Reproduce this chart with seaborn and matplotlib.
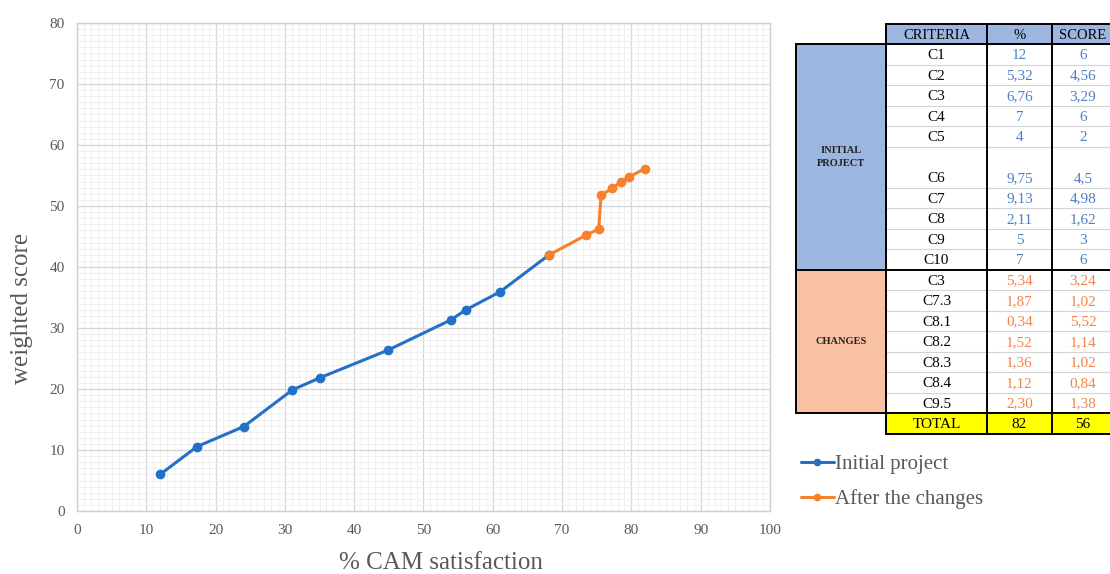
import numpy as np
import pandas as pd
import matplotlib
matplotlib.use("Agg")
import matplotlib.pyplot as plt
import seaborn as sns
from matplotlib.patches import Rectangle
from matplotlib.lines import Line2D
from matplotlib.ticker import MultipleLocator

# ---- data -----------------------------------------------------------------
initial_criteria = ["C1", "C2", "C3", "C4", "C5", "C6", "C7", "C8", "C9", "C10"]
initial_pct_txt = ["12", "5,32", "6,76", "7", "4", "9,75", "9,13", "2,11", "5", "7"]
initial_score_txt = ["6", "4,56", "3,29", "6", "2", "4,5", "4,98", "1,62", "3", "6"]

change_criteria = ["C3", "C7.3", "C8.1", "C8.2", "C8.3", "C8.4", "C9.5"]
change_pct_txt = ["5,34", "1,87", "0,34", "1,52", "1,36", "1,12", "2,30"]
change_score_txt = ["3,24", "1,02", "5,52", "1,14", "1,02", "0,84", "1,38"]

total_label = "TOTAL"
total_pct_txt = "82"
total_score_txt = "56"

series_names = ["Initial project", "After the changes"]
group_names = ["INITIAL\nPROJECT", "CHANGES"]
header = ["CRITERIA", "%", "SCORE"]

x_ticks = list(range(0, 101, 10))
y_ticks = list(range(0, 81, 10))


def num(s):
    return float(s.replace(",", "."))


initial_pct = [num(s) for s in initial_pct_txt]
initial_score = [num(s) for s in initial_score_txt]
change_pct = [num(s) for s in change_pct_txt]
change_score = [num(s) for s in change_score_txt]

# cumulative curve: satisfaction vs weighted score
cum_pct = np.cumsum(initial_pct + change_pct)
cum_score = np.cumsum(initial_score + change_score)
n0 = len(initial_pct)

df = pd.concat([
    pd.DataFrame({"pct": cum_pct[:n0], "score": cum_score[:n0],
                  "series": series_names[0]}),
    pd.DataFrame({"pct": cum_pct[n0 - 1:], "score": cum_score[n0 - 1:],
                  "series": series_names[1]}),
], ignore_index=True)

# ---- style ----------------------------------------------------------------
BLUE = "#2470C6"
ORANGE = "#F7802B"
TXT_BLUE = "#4F7FC4"
TXT_ORANGE = "#F2844A"
GREY_TXT = "#595959"
SERIF = ["Liberation Serif", "DejaVu Serif"]

sns.set_style("white")
plt.rcParams["font.family"] = SERIF

W, H = 1110, 574
fig = plt.figure(figsize=(W / 100, H / 100), dpi=100)
ax = fig.add_axes([77 / W, 1 - 511 / H, (770 - 77) / W, (511 - 23) / H])

sns.lineplot(data=df, x="pct", y="score", hue="series", sort=False,
             palette=[BLUE, ORANGE], marker="o", markersize=7,
             markeredgewidth=0, linewidth=2.2, ax=ax, legend=False, zorder=5)

ax.set_xlim(0, 100)
ax.set_ylim(0, 80)
ax.set_xticks(x_ticks)
ax.set_yticks(y_ticks)
ax.xaxis.set_minor_locator(MultipleLocator(1))
ax.yaxis.set_minor_locator(MultipleLocator(1))
ax.grid(which="major", color="#D6D6D6", linewidth=0.9, zorder=1)
ax.grid(which="minor", color="#EEEEEE", linewidth=0.6, zorder=0)
ax.set_axisbelow(True)
for sp in ax.spines.values():
    sp.set_color("#CFCFCF")
    sp.set_linewidth(1.0)
ax.tick_params(which="both", length=0, labelsize=11, colors=GREY_TXT, pad=9)
ax.set_xlabel("% CAM satisfaction", fontsize=18, color=GREY_TXT)
ax.set_ylabel("weighted score", fontsize=18, color=GREY_TXT)
ax.xaxis.set_label_coords(0.525, -0.107)
ax.yaxis.set_label_coords(-0.079, 0.416)
ax.xaxis.label.set_va("center")
ax.yaxis.label.set_va("center")

# ---- legend ---------------------------------------------------------------
handles = [Line2D([], [], color=c, marker="o", markersize=5.5, lw=2.2, markeredgewidth=0)
           for c in (BLUE, ORANGE)]
fig.legend(handles, series_names, loc="upper left",
           bbox_to_anchor=(782 / W, 1 - 436 / H), frameon=False,
           fontsize=15, labelcolor=GREY_TXT, handlelength=1.6,
           handletextpad=0.05, labelspacing=0.72)

# ---- criteria table (pixel-space overlay) -----------------------------------
tab = fig.add_axes([0, 0, 1, 1], zorder=3)
tab.set_xlim(0, W)
tab.set_ylim(H, 0)
tab.axis("off")

xg0, xc0, xp0, xs0, xend = 796, 886, 987, 1052, 1125
score_cx = 1083  # text centre of the last column (column runs past the edge)
top = 24.3
hdr_h = 20.0
unit = 20.5
TFS = 11

col_centres = [(xc0 + xp0) / 2, (xp0 + xs0) / 2, score_cx]


def cell_text(x, y, s, color="black", size=TFS):
    tab.text(x, y, s, ha="center", va="center", fontsize=size, color=color)


# header
tab.add_patch(Rectangle((xc0, top), xend - xc0, hdr_h, facecolor="#9CB6DF", edgecolor="none"))
for cx, s in zip(col_centres, header):
    cell_text(cx, top + hdr_h / 2 + 1, s, size=10.5)

# body rows
rows = []
spans = [1, 1, 1, 1, 1, 2, 1, 1, 1, 1]
for c, p, s, k in zip(initial_criteria, initial_pct_txt, initial_score_txt, spans):
    rows.append((c, p, s, k, TXT_BLUE))
for c, p, s in zip(change_criteria, change_pct_txt, change_score_txt):
    rows.append((c, p, s, 1, TXT_ORANGE))

y = top + hdr_h
group_bounds = [y]
row_edges = []
for i, (c, p, s, k, col) in enumerate(rows):
    h = k * unit
    yc = y + h - unit / 2 + 1
    cell_text(col_centres[0], yc, c)
    cell_text(col_centres[1], yc, p, color=col)
    cell_text(col_centres[2], yc, s, color=col)
    y += h
    row_edges.append(y)
    if i == n0 - 1:
        group_bounds.append(y)
group_bounds.append(y)
body_bottom = y

# group cells
for (a, b), name, fc in zip([(group_bounds[0], group_bounds[1]),
                             (group_bounds[1], group_bounds[2])],
                            group_names, ["#9CB6DF", "#F8C1A4"]):
    tab.add_patch(Rectangle((xg0, a), xc0 - xg0, b - a, facecolor=fc, edgecolor="none"))
    tab.text((xg0 + xc0) / 2, (a + b) / 2, name, ha="center", va="center",
             fontsize=7.5, fontweight="bold", color="#222222", linespacing=1.6)

# thin row separators
for ye in row_edges[:-1]:
    if ye in group_bounds:
        continue
    tab.plot([xc0, xend], [ye, ye], color="#D4D4D4", lw=0.8)

# total row
tot_h = unit
tab.add_patch(Rectangle((xc0, body_bottom), xend - xc0, tot_h, facecolor="#FFFF00", edgecolor="none"))
for cx, s in zip(col_centres, [total_label, total_pct_txt, total_score_txt]):
    cell_text(cx, body_bottom + tot_h / 2 + 1, s)
bottom = body_bottom + tot_h

# heavy borders
LW = 1.4
for xv in (xc0, xp0, xs0):
    tab.plot([xv, xv], [top, bottom], color="black", lw=LW)
tab.plot([xg0, xg0], [group_bounds[0], group_bounds[2]], color="black", lw=LW)
tab.plot([xc0, xend], [top, top], color="black", lw=LW)
tab.plot([xg0, xend], [group_bounds[0]] * 2, color="black", lw=LW)
tab.plot([xg0, xend], [group_bounds[1]] * 2, color="black", lw=LW)
tab.plot([xg0, xend], [group_bounds[2]] * 2, color="black", lw=LW)
tab.plot([xc0, xend], [bottom, bottom], color="black", lw=LW)

fig.savefig("out.png", dpi=100)
